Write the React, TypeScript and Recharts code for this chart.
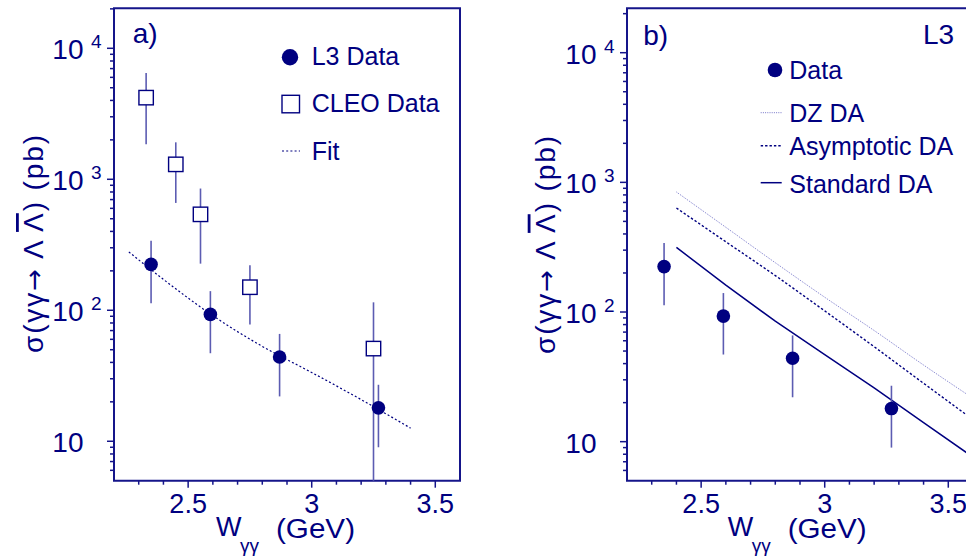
import {
  ComposedChart,
  Line,
  Scatter,
  ErrorBar,
  XAxis,
  YAxis,
  ReferenceArea,
} from 'recharts'

const NAVY = '#000080'
const AXIS = '#15158a'
const BAR = '#5c5cb2'
const FONT = '"Liberation Sans", Arial, sans-serif'

// L3 measurements (pb), lower / upper ends of error bars
const wL3 = [2.35, 2.59, 2.87, 3.27]
const sigmaL3 = [224, 93, 44, 18]
const sigmaL3Lo = [113, 47, 22, 9]
const sigmaL3Hi = [340, 140, 66, 27]

// CLEO measurements
const wCleo = [2.33, 2.45, 2.55, 2.75, 3.25]
const sigmaCleo = [4200, 1300, 540, 150, 51]
const sigmaCleoLo = [1850, 660, 227, 78, 5]
const sigmaCleoHi = [6470, 1915, 850, 221, 115]

// fit through L3 points (panel a)
const wFit = [2.26, 2.4, 2.6, 2.8, 3.0, 3.2, 3.4]
const sigmaFit = [279, 172, 91, 53, 33.5, 20.8, 12.6]

// theory curves (panel b)
const wTheory = [2.4, 2.6, 2.8, 3.0, 3.2, 3.4, 3.6]
const sigmaDZ = [843, 450, 240, 130, 72, 39, 21.6]
const sigmaAsym = [634, 348, 191, 102, 54, 28.2, 14.8]
const sigmaStd = [315, 161, 85, 47, 26, 14, 7.6]

const xTicks = [2.3, 2.4, 2.5, 2.6, 2.7, 2.8, 2.9, 3.0, 3.1, 3.2, 3.3, 3.4, 3.5]
const xMajor = [2.5, 3, 3.5]
const yTicks = [
  6, 7, 8, 9, 10, 20, 30, 40, 50, 60, 70, 80, 90, 100, 200, 300, 400, 500, 600, 700, 800, 900,
  1000, 2000, 3000, 4000, 5000, 6000, 7000, 8000, 9000, 10000, 20000,
]
const yMajor = [10, 100, 1000, 10000]

const withErr = (w: number[], s: number[], lo: number[], hi: number[]) =>
  w.map((x, i) => ({ w: x, s: s[i], err: [s[i] - lo[i], hi[i] - s[i]] }))
const curve = (w: number[], s: number[]) => w.map((x, i) => ({ w: x, s: s[i] }))

const l3Data = withErr(wL3, sigmaL3, sigmaL3Lo, sigmaL3Hi)
const cleoData = withErr(wCleo, sigmaCleo, sigmaCleoLo, sigmaCleoHi)
const fitData = curve(wFit, sigmaFit)
const dzData = curve(wTheory, sigmaDZ)
const asymData = curve(wTheory, sigmaAsym)
const stdData = curve(wTheory, sigmaStd)

function XTick(props: any) {
  const { x, y, payload } = props
  const major = xMajor.some((m) => Math.abs(m - payload.value) < 1e-6)
  return (
    <g>
      <line x1={x} x2={x} y1={y} y2={y + (major ? 7 : 4)} stroke={AXIS} strokeWidth={1.5} />
      {major && (
        <text x={x} y={y + 32.6} textAnchor="middle" fontSize={27} fill={NAVY} fontFamily={FONT}>
          {payload.value}
        </text>
      )}
    </g>
  )
}

function YTick(props: any) {
  const { x, y, payload } = props
  const v = payload.value
  const major = yMajor.includes(v)
  const exp = Math.round(Math.log10(v))
  return (
    <g>
      <line x1={x - (major ? 7 : 4)} x2={x} y1={y} y2={y} stroke={AXIS} strokeWidth={1.5} />
      {major && (
        <text x={x - 30.5} y={y + 11} textAnchor="end" fontSize={28} fill={NAVY} fontFamily={FONT}>
          10
        </text>
      )}
      {major && exp > 1 && (
        <text x={x - 23} y={y} fontSize={19} fill={NAVY} fontFamily={FONT}>
          {exp}
        </text>
      )}
    </g>
  )
}

const dot = (p: any) => <circle cx={p.cx} cy={p.cy} r={6.8} fill={NAVY} />
const square = (p: any) => (
  <rect x={p.cx - 7.2} y={p.cy - 7.2} width={14.4} height={14.4} fill="#fff" stroke={NAVY} strokeWidth={1.4} />
)
const none = () => <g />

function Panel({ yTop, children }: { yTop: number; children: any }) {
  return (
    <ComposedChart width={480} height={556} margin={{ top: 8.3, right: 20, bottom: 15.3, left: 54 }}>
      <XAxis
        type="number"
        dataKey="w"
        domain={[2.2, 3.6]}
        ticks={xTicks}
        interval={0}
        tick={XTick}
        tickSize={0}
        tickMargin={0}
        tickLine={false}
        axisLine={false}
        height={60}
        allowDataOverflow
      />
      <YAxis
        type="number"
        dataKey="s"
        scale="log"
        domain={[5, yTop]}
        ticks={yTicks}
        interval={0}
        tick={YTick}
        tickSize={0}
        tickMargin={0}
        tickLine={false}
        axisLine={false}
        width={60}
        allowDataOverflow
      />
      <ReferenceArea x1={2.2} x2={3.6} y1={5} y2={yTop} fill="none" stroke={AXIS} strokeWidth={2} />
      {children}
    </ComposedChart>
  )
}

function L3Points() {
  return [
    <Scatter key="l3e" data={l3Data} shape={none} isAnimationActive={false}>
      <ErrorBar dataKey="err" direction="y" width={0} stroke={BAR} strokeWidth={1.6} isAnimationActive={false} />
    </Scatter>,
    <Scatter key="l3" data={l3Data} shape={dot} isAnimationActive={false} />,
  ]
}

function AxisTitles({ ox, yc }: { ox: number; yc: number }) {
  return (
    <g fill={NAVY} fontFamily={FONT}>
      <text
        x={ox + 43}
        y={yc}
        fontSize={28}
        textAnchor="middle"
        textLength={218}
        lengthAdjust="spacing"
        transform={`rotate(-90 ${ox + 43} ${yc})`}
      >
        σ(γγ<tspan fontFamily="DejaVu Sans" fontSize={26}>→</tspan> Λ{' '}
        <tspan style={{ textDecoration: 'overline' }}>Λ</tspan>) (pb)
      </text>
      <text x={ox + 216} y={536} fontSize={27}>
        W
      </text>
      <text x={ox + 240} y={552} fontSize={19}>
        γγ
      </text>
      <text x={ox + 276} y={538} fontSize={27} textLength={79} lengthAdjust="spacingAndGlyphs">
        (GeV)
      </text>
    </g>
  )
}

export default function App() {
  const bx = 512.7
  return (
    <div
      style={{
        position: 'absolute',
        left: 0,
        top: 0,
        width: 966,
        height: 556,
        overflow: 'hidden',
        background: '#fff',
      }}
    >
      <div style={{ position: 'absolute', left: 0, top: 0 }}>
        <Panel yTop={20200}>
          <Line data={fitData} dataKey="s" type="monotone" stroke={NAVY} strokeWidth={1.2} strokeDasharray="2 2.2" dot={false} isAnimationActive={false} />
          <Scatter data={cleoData} shape={none} isAnimationActive={false}>
            <ErrorBar dataKey="err" direction="y" width={0} stroke={BAR} strokeWidth={1.6} isAnimationActive={false} />
          </Scatter>
          <Scatter data={cleoData} shape={square} isAnimationActive={false} />
          {L3Points()}
        </Panel>
      </div>
      <div style={{ position: 'absolute', left: bx, top: 0 }}>
        <Panel yTop={22000}>
          <Line data={dzData} dataKey="s" type="monotone" stroke="#7575c8" strokeWidth={1} strokeDasharray="1 1.2" dot={false} isAnimationActive={false} />
          <Line data={asymData} dataKey="s" type="monotone" stroke={NAVY} strokeWidth={1.4} strokeDasharray="2.4 2" dot={false} isAnimationActive={false} />
          <Line data={stdData} dataKey="s" stroke={NAVY} strokeWidth={1.5} dot={false} isAnimationActive={false} />
          {L3Points()}
        </Panel>
      </div>
      <svg width={966} height={556} style={{ position: 'absolute', left: 0, top: 0, pointerEvents: 'none' }}>
        <g fill={NAVY} fontFamily={FONT}>
          <text x={132.7} y={43.3} fontSize={28}>a)</text>
          <text x={643.3} y={45} fontSize={28}>b)</text>
          <text x={923} y={44} fontSize={28}>L3</text>

          {/* legend a */}
          <circle cx={290} cy={57.3} r={8.2} fill={NAVY} />
          <text x={311.7} y={65} fontSize={25}>L3 Data</text>
          <rect x={282} y={95.3} width={17.5} height={17.5} fill="#fff" stroke={NAVY} strokeWidth={1.4} />
          <text x={311.7} y={111.7} fontSize={25}>CLEO Data</text>
          <line x1={282} x2={300} y1={151} y2={151} stroke={NAVY} strokeWidth={1.2} strokeDasharray="2 2.2" />
          <text x={311.7} y={160} fontSize={25}>Fit</text>

          {/* legend b */}
          <circle cx={775} cy={70} r={7.3} fill={NAVY} />
          <text x={789.3} y={79} fontSize={25}>Data</text>
          <line x1={760.7} x2={781.7} y1={112.7} y2={112.7} stroke="#7575c8" strokeWidth={1} strokeDasharray="1 1.2" />
          <text x={789.3} y={121.7} fontSize={25}>DZ DA</text>
          <line x1={760.7} x2={781.7} y1={145.7} y2={145.7} stroke={NAVY} strokeWidth={1.4} strokeDasharray="2.4 2" />
          <text x={789.3} y={155} fontSize={25}>Asymptotic DA</text>
          <line x1={760.7} x2={781.7} y1={182.7} y2={182.7} stroke={NAVY} strokeWidth={1.5} />
          <text x={789.3} y={192.7} fontSize={25}>Standard DA</text>
        </g>
        <AxisTitles ox={0} yc={244} />
        <AxisTitles ox={bx - 1} yc={245} />
      </svg>
    </div>
  )
}
